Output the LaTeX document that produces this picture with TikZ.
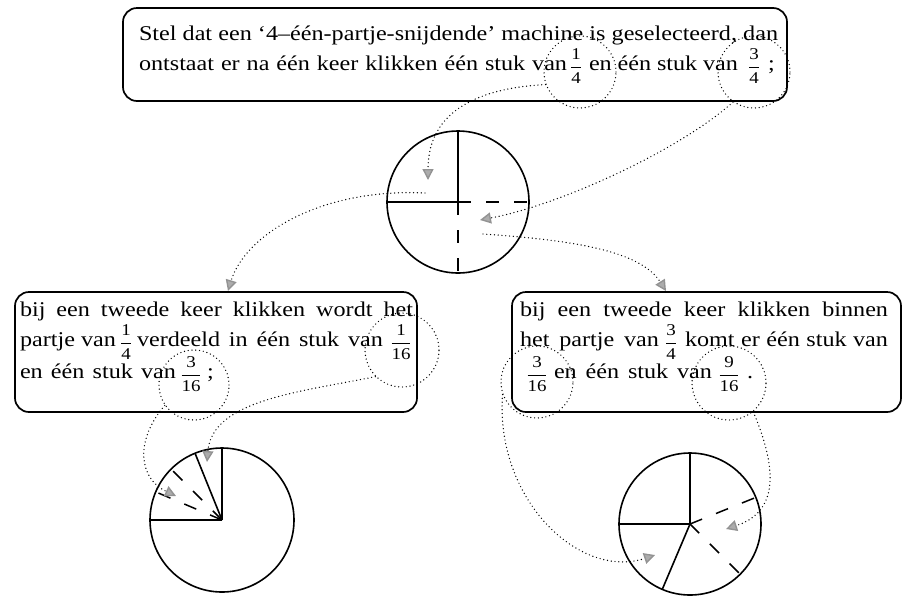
\documentclass[tikz,border=0pt]{standalone}
\usepackage{fontspec}
\setmainfont{Liberation Serif}[FakeStretch=1.15]
\usetikzlibrary{arrows.meta}
\newcommand\fr[2]{{\fontsize{16.5}{16.5}\selectfont\raisebox{-1.5pt}{$\displaystyle{\mbox{#1}\above 1.2pt\mbox{#2}}$}}}
\newcommand\seg[2]{\makebox[#1][s]{#2}}
\begin{document}
\begin{tikzpicture}[x=1pt,y=-1pt,
  font=\fontsize{21}{25}\selectfont,
  frame/.style={draw, line width=1.7pt, rounded corners=14pt, inner sep=0pt, outer sep=0pt},
  txt/.style={anchor=base west, inner sep=0pt, outer sep=0pt},
  frc/.style={anchor=base, inner sep=0pt, outer sep=0pt},
  ring/.style={circle, draw, line width=1.4pt, dash pattern=on 0pt off 3.8pt, line cap=round, inner sep=0pt, minimum size=#1},
  pie/.style={circle, draw, line width=1.6pt, inner sep=0pt, outer sep=0pt, minimum size=#1},
  pl/.style={line width=1.6pt},
  dsh/.style={line width=1.5pt, dash pattern=on 13pt off 15pt},
  ptr/.style={line width=1.4pt, dash pattern=on 0pt off 3.8pt, line cap=round,
    -{Triangle[length=11pt,width=11pt,fill=gray!65,color=gray!85]}}]
\fill[white] (0,0) rectangle (904,606);
\useasboundingbox (0,0) rectangle (904,606);
% frames
\node[frame, minimum width=664pt, minimum height=93pt] (topbox) at (455,54.5) {};
\node[frame, minimum width=402pt, minimum height=120pt] (lbox) at (216,352) {};
\node[frame, minimum width=389pt, minimum height=120pt] (rbox) at (706.5,352) {};
% top text
\node[txt] (t1) at (139,40) {\seg{639pt}{Stel dat een ‘4–één-partje-snijdende’ machine is geselecteerd, dan}};
\node[txt] (t2a) at (139,70) {\seg{428pt}{ontstaat er na één keer klikken één stuk van}};
\node[frc] (f14) at (576,70) {\fr{1}{4}};
\node[txt] (t2b) at (589,70) {\seg{149pt}{en één stuk van}};
\node[frc] (f34) at (754,70) {\fr{3}{4}};
\node[txt] (t2c) at (768,70) {;};
% left text
\node[txt] (l1) at (20,316) {\seg{393pt}{bij een tweede keer klikken wordt het}};
\node[txt] (l2a) at (20,346) {\seg{96pt}{partje van}};
\node[frc] (f14b) at (126,346) {\fr{1}{4}};
\node[txt] (l2b) at (137,346) {\seg{246pt}{verdeeld in één stuk van}};
\node[frc] (f116) at (401,346) {\fr{1}{16}};
\node[txt] (l3a) at (20,378) {\seg{156pt}{en één stuk van}};
\node[frc] (f316) at (191,378) {\fr{3}{16}};
\node[txt] (l3b) at (207,378) {;};
% right text
\node[txt] (r1) at (520,316) {\seg{368pt}{bij een tweede keer klikken binnen}};
\node[txt] (r2a) at (520,346) {\seg{139pt}{het partje van}};
\node[frc] (f34b) at (671,346) {\fr{3}{4}};
\node[txt] (r2b) at (685,346) {\seg{203pt}{komt er één stuk van}};
\node[frc] (f316b) at (537,378) {\fr{3}{16}};
\node[txt] (r3a) at (554,378) {\seg{158pt}{en één stuk van}};
\node[frc] (f916) at (729,378) {\fr{9}{16}};
\node[txt] (r3b) at (747,378) {.};
% rings
\node[ring=72pt] (c14) at (580,72) {};
\node[ring=72pt] (c34) at (754,72) {};
\node[ring=74pt] (c116) at (402,350) {};
\node[ring=70pt] (c316) at (194,385) {};
\node[ring=72pt] (c316b) at (537,382) {};
\node[ring=74pt] (c916) at (729,383) {};
% pie 1
\node[pie=142pt] (p1) at (458,202) {};
\draw[pl] (p1.north) -- (p1.center);
\draw[pl] (p1.west) -- (p1.center);
\draw[dsh] (p1.center) -- (p1.east);
\draw[dsh] (p1.center) -- (p1.south);
% left pie
\node[pie=144pt] (lp) at (222,520) {};
\draw[pl] (lp.center) -- (lp.90);
\draw[pl] (lp.center) -- (lp.112.5);
\draw[pl] (lp.center) -- (lp.180);
\draw[dsh] (lp.center) -- (lp.135);
\draw[dsh] (lp.center) -- (lp.157.5);
% right pie
\node[pie=142pt] (rp) at (690,524) {};
\draw[pl] (rp.center) -- (rp.90);
\draw[pl] (rp.center) -- (rp.180);
\draw[pl] (rp.center) -- (rp.247.5);
\draw[dsh] (rp.center) -- (rp.22.5);
\draw[dsh] (rp.center) -- (rp.-45);
% arrow targets
\coordinate (a1) at (428,180);
\coordinate (a2) at (480,220);
\coordinate (s1) at (425,193);
\coordinate (a3) at (228,291);
\coordinate (s2) at (483,234);
\coordinate (a4) at (666,291);
\coordinate (a5) at (207,462);
\coordinate (a6) at (176,496);
\coordinate (a7) at (655,555);
\coordinate (a8) at (726,529);
\draw[ptr] (c14.200) .. controls (480,88) and (428,110) .. (a1);
\draw[ptr] (c34.235) .. controls (680,150) and (560,205) .. (a2);
\draw[ptr] (s1) .. controls (320,188) and (245,235) .. (a3);
\draw[ptr] (s2) .. controls (570,240) and (640,250) .. (a4);
\draw[ptr] (c116.225) .. controls (300,392) and (212,400) .. (a5);
\draw[ptr] (c316.215) .. controls (135,440) and (138,478) .. (a6);
\draw[ptr] (c316b.200) .. controls (495,500) and (580,580) .. (a7);
\draw[ptr] (c916.310) .. controls (778,470) and (778,512) .. (a8);
\end{tikzpicture}
\end{document}
